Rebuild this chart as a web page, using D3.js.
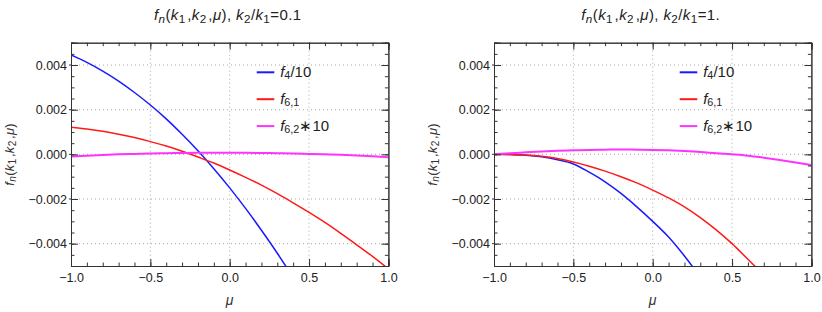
<!DOCTYPE html>
<html>
<head>
<meta charset="utf-8">
<script src="https://cdn.jsdelivr.net/npm/d3@7"></script>
<style>
    body { margin: 0; background: #fff; }
    svg { font-family: "Liberation Sans", Arial, sans-serif; }
</style>
</head>
<body>
<div id="chart"></div>
<script>
// mu grid the curves were read at
const muLeft = [-1.0, -0.9, -0.8, -0.7, -0.6, -0.5, -0.4, -0.3, -0.2, -0.1, 0.0, 0.1, 0.2, 0.3, 0.4, 0.5, 0.6, 0.7, 0.8, 0.9, 1.0];
const muRight = muLeft;

// k2/k1 = 0.1
const f4Left  = [0.00445, 0.00412, 0.00373, 0.00328, 0.00277, 0.00221, 0.00159, 0.0009, 0.00016, -0.00064, -0.0015, -0.00242, -0.0034, -0.00443, -0.00553, -0.0067, null, null, null, null, null];
const f61Left = [0.00121, 0.00113, 0.00103, 0.0009, 0.00075, 0.00057, 0.00037, 0.00014, -0.00012, -0.00039, -0.0007, -0.00103, -0.00138, -0.00176, -0.00217, -0.0026, -0.00305, -0.00354, -0.00405, -0.00457, -0.00513];
const f62Left = [-0.0001, -0.00006, -0.00003, 0.0, 0.00002, 0.00004, 0.00005, 0.00006, 0.00007, 0.00007, 0.00007, 0.00007, 0.00006, 0.00005, 0.00004, 0.00002, 0.0, -0.00002, -0.00005, -0.00009, -0.00013];

// k2/k1 = 1.
const f4Right  = [0.0, -0.00001, -0.00004, -0.00011, -0.00024, -0.00043, -0.0008, -0.00123, -0.00175, -0.00235, -0.003, -0.0037, -0.00455, -0.0055, null, null, null, null, null, null, null];
const f61Right = [0.0, -0.00001, -0.00003, -0.00009, -0.00019, -0.00034, -0.00053, -0.00075, -0.001, -0.00128, -0.0016, -0.00195, -0.00235, -0.00283, -0.00338, -0.004, -0.0047, -0.0054, null, null, null];
const f62Right = [0.0, 0.00005, 0.00009, 0.00013, 0.00016, 0.00018, 0.0002, 0.00021, 0.00022, 0.00021, 0.0002, 0.00018, 0.00015, 0.00011, 0.00005, 0.0, -0.00006, -0.00015, -0.00025, -0.00036, -0.00048];

const xTicks = [-1.0, -0.5, 0.0, 0.5, 1.0];
const yTicks = [-0.004, -0.002, 0.0, 0.002, 0.004];

const seriesNames = [
    [["f", "i"], ["4", "s"], ["/10", ""]],
    [["f", "i"], ["6,1", "s"]],
    [["f", "i"], ["6,2", "s"], ["\u221710", ""]]
];
const seriesColors = ["#1a1aff", "#ff1a1a", "#ff33ff"];

const panels = [
    { left: 71, ratio: "0.1", mu: muLeft, series: [f4Left, f61Left, f62Left] },
    { left: 494, ratio: "1.", mu: muRight, series: [f4Right, f61Right, f62Right] }
];

const W = 822, H = 312;
const plotW = 317.4, plotTop = 42.7, plotBottom = 266;
const FONT = "Liberation Sans, Arial, sans-serif";

const svg = d3.select("#chart").append("svg")
    .attr("width", W)
    .attr("height", H);

// writes a mixed italic / subscript label into a text element
function richText(sel, parts, subSize) {
    parts.forEach(p => {
        const t = sel.append("tspan").text(p[0]);
        if (p[1].indexOf("i") >= 0) t.attr("font-style", "italic");
        if (p[1].indexOf("s") >= 0) {
            t.attr("font-size", subSize || "0.72em").attr("baseline-shift", "-22%");
        }
    });
}

const fnLabel = [["f", "i"], ["n", "is"], ["(", ""], ["k", "i"], ["1", "s"], ["\u200a,", ""], ["k", "i"], ["2", "s"], ["\u200a,", ""], ["\u03bc", "i"], [")", ""]];

panels.forEach((p, pi) => {
    const x = d3.scaleLinear().domain([-1, 1]).range([p.left, p.left + plotW]);
    const y = d3.scaleLinear().domain([-0.005, 0.005]).range([plotBottom, plotTop]);
    const g = svg.append("g");

    // dotted grid
    xTicks.slice(1, -1).forEach(t => {
        g.append("line")
            .attr("x1", x(t)).attr("x2", x(t))
            .attr("y1", plotTop).attr("y2", plotBottom)
            .attr("stroke", "#aaa").attr("stroke-width", 1)
            .attr("stroke-dasharray", "1,3");
    });
    yTicks.forEach(t => {
        g.append("line")
            .attr("x1", p.left).attr("x2", p.left + plotW)
            .attr("y1", y(t)).attr("y2", y(t))
            .attr("stroke", "#aaa").attr("stroke-width", 1)
            .attr("stroke-dasharray", "1,3");
    });

    // curves
    const clipId = "clip" + pi;
    svg.append("clipPath").attr("id", clipId)
        .append("rect")
        .attr("x", p.left).attr("y", plotTop)
        .attr("width", plotW).attr("height", plotBottom - plotTop);

    const line = d3.line()
        .defined(d => d[1] !== null)
        .x(d => x(d[0]))
        .y(d => y(d[1]))
        .curve(d3.curveMonotoneX);

    p.series.forEach((s, si) => {
        g.append("path")
            .datum(p.mu.map((m, i) => [m, s[i]]))
            .attr("clip-path", "url(#" + clipId + ")")
            .attr("d", line)
            .attr("fill", "none")
            .attr("stroke", seriesColors[si])
            .attr("stroke-width", si === 2 ? 2 : 1.5);
    });

    // frame ticks: majors + minors on all sides, pointing in
    const xMinor = d3.range(-10, 11).map(v => v / 10);
    const yMinor = d3.range(-10, 11).map(v => v / 2000);

    const bottomAxis = d3.axisBottom(x).tickValues(xMinor).tickSize(-3.5).tickFormat("");
    const topAxis = d3.axisTop(x).tickValues(xMinor).tickSize(-3.5).tickFormat("");
    const leftAxis = d3.axisLeft(y).tickValues(yMinor).tickSize(-3.5).tickFormat("");
    const rightAxis = d3.axisRight(y).tickValues(yMinor).tickSize(-3.5).tickFormat("");
    g.append("g").attr("transform", `translate(0,${plotBottom})`).call(bottomAxis);
    g.append("g").attr("transform", `translate(0,${plotTop})`).call(topAxis);
    g.append("g").attr("transform", `translate(${p.left},0)`).call(leftAxis);
    g.append("g").attr("transform", `translate(${p.left + plotW},0)`).call(rightAxis);

    const minus = s => s.replace("-", "\u2212\u2009");
    const bottomMajor = d3.axisBottom(x).tickValues(xTicks).tickSize(-7).tickPadding(7)
        .tickFormat(d => minus(d3.format(".1f")(d)));
    const leftMajor = d3.axisLeft(y).tickValues(yTicks).tickSize(-7).tickPadding(12)
        .tickFormat(d => minus(d3.format(".3f")(d)));
    const topMajor = d3.axisTop(x).tickValues(xTicks).tickSize(-7).tickFormat("");
    const rightMajor = d3.axisRight(y).tickValues(yTicks).tickSize(-7).tickFormat("");

    const bx = g.append("g").attr("transform", `translate(0,${plotBottom})`).call(bottomMajor);
    const ly = g.append("g").attr("transform", `translate(${p.left},0)`).call(leftMajor);
    g.append("g").attr("transform", `translate(0,${plotTop})`).call(topMajor);
    g.append("g").attr("transform", `translate(${p.left + plotW},0)`).call(rightMajor);

    // little outward stub on left major ticks
    yTicks.forEach(t => {
        g.append("line")
            .attr("x1", p.left - 2).attr("x2", p.left)
            .attr("y1", y(t)).attr("y2", y(t))
            .attr("stroke", "#333");
    });

    [bx, ly].forEach(a => a.selectAll("text")
        .attr("font-size", 12.5)
        .attr("fill", "#222")
        .attr("font-family", FONT));
    ly.selectAll("text").attr("dx", "8");
    bx.selectAll("text").attr("dy", "0.71em");

    g.selectAll(".domain").attr("stroke", "#333").attr("stroke-width", 1);
    g.selectAll(".tick line").attr("stroke", "#333");

    // title
    const title = g.append("text")
        .attr("x", x(0) - 2).attr("y", 19.5)
        .attr("text-anchor", "middle")
        .attr("font-family", FONT)
        .attr("font-size", 15)
        .attr("letter-spacing", 0.4)
        .attr("fill", "#222");
    richText(title, fnLabel.concat([[", ", ""], ["k", "i"], ["2", "s"], ["/", ""], ["k", "i"], ["1", "s"], ["=" + p.ratio, ""]]), "0.78em");

    // axis labels
    g.append("text")
        .attr("x", x(0)).attr("y", 304.5)
        .attr("text-anchor", "middle")
        .attr("font-family", FONT)
        .attr("font-size", 14)
        .attr("font-style", "italic")
        .attr("fill", "#333")
        .text("\u03bc");

    const yl = g.append("text")
        .attr("transform", `translate(${p.left - 57},${y(0)}) rotate(-90)`)
        .attr("text-anchor", "middle")
        .attr("font-family", FONT)
        .attr("font-size", 13)
        .attr("letter-spacing", 0.3)
        .attr("fill", "#333");
    richText(yl, fnLabel, "0.78em");

    // legend
    seriesNames.forEach((n, i) => {
        const ly0 = 72.3 + i * 26.9;
        const lx0 = p.left + 185.7;
        g.append("line")
            .attr("x1", lx0).attr("x2", lx0 + 17.6)
            .attr("y1", ly0).attr("y2", ly0)
            .attr("stroke", seriesColors[i])
            .attr("stroke-width", 2);
        const t = g.append("text")
            .attr("x", lx0 + 23.5).attr("y", ly0 + 5)
            .attr("font-family", FONT)
            .attr("font-size", 15)
            .attr("fill", "#222");
        richText(t, n);
    });
});
</script>
</body>
</html>
